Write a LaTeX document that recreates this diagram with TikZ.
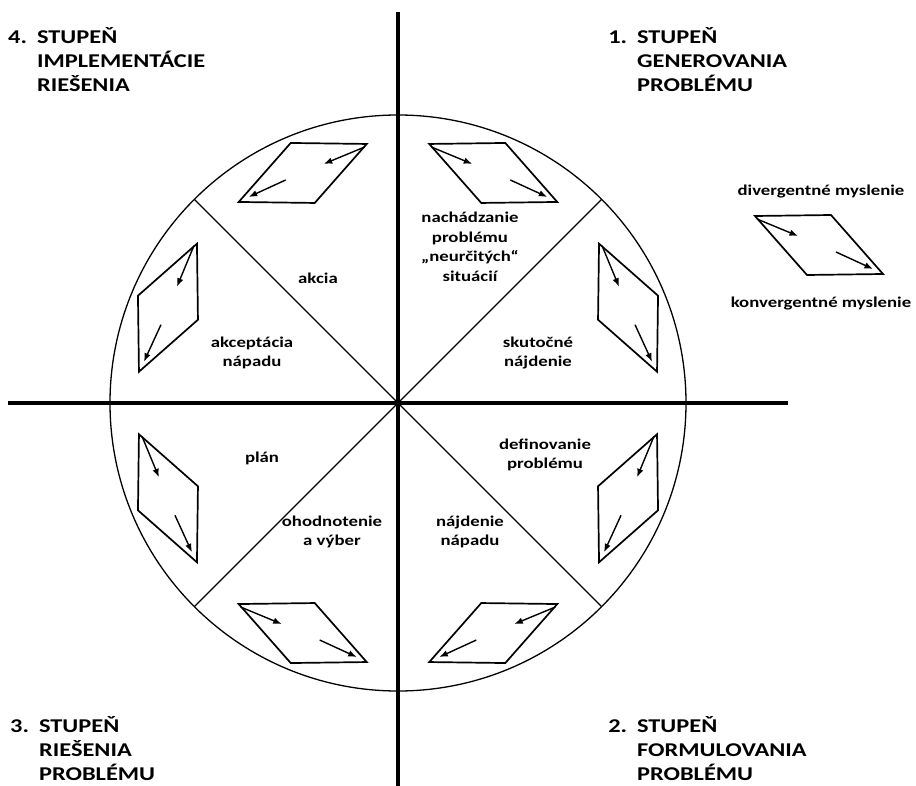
\documentclass[tikz,border=0pt]{standalone}
\usepackage{fontspec}
\setmainfont{Carlito}
\usetikzlibrary{positioning, arrows.meta}

\tikzset{
  axisline/.style={line width=3.8pt},
  thinline/.style={line width=1.3pt},
  shapeline/.style={line width=1.7pt, line join=miter},
  flowarrow/.style={-{Latex[length=8.5pt, width=6.5pt]}, line width=1.4pt},
  phase/.style={font=\fontsize{19.5}{24}\selectfont\bfseries, inner sep=0pt,
    xscale=1.25, transform shape},
  sectortext/.style={font=\fontsize{15}{19.5}\selectfont\bfseries, align=center,
    inner sep=0pt, xscale=1.25, transform shape},
  rhomb/.pic={
    \draw[shapeline] (-64,29) -- (12,30) -- (64,-29) -- (-12,-30) -- cycle;
    \draw[flowarrow] (-62,26) -- (-21,9);
    \draw[flowarrow] (17,-7) -- (54,-24);
  }
}

\begin{document}
\begin{tikzpicture}[x=1pt, y=1pt]
\useasboundingbox (-398,-382) rectangle (518,403);

% circle and sectors
\coordinate (O) at (0,0);
\draw[thinline] (O) circle (288);
\draw[thinline] (45:288) -- (225:288);
\draw[thinline] (135:288) -- (-45:288);

% axes
\draw[axisline] (0,391) -- (0,-390);
\draw[axisline] (-390,0) -- (390,0);

% stage headings
\node[phase, anchor=base west] (stage4) at (-390,359)
{\begin{tabular}[t]{@{}l@{\hspace{8pt}}l@{}}4. & STUPEŇ\\ & IMPLEMENTÁCIE\\ & RIEŠENIA\end{tabular}};
\node[phase, anchor=base west] (stage1) at (210,359)
{\begin{tabular}[t]{@{}l@{\hspace{8pt}}l@{}}1. & STUPEŇ\\ & GENEROVANIA\\ & PROBLÉMU\end{tabular}};
\node[phase, anchor=base west] (stage3) at (-388,-329)
{\begin{tabular}[t]{@{}l@{\hspace{8pt}}l@{}}3. & STUPEŇ\\ & RIEŠENIA\\ & PROBLÉMU\end{tabular}};
\node[phase, anchor=base west] (stage2) at (210,-329)
{\begin{tabular}[t]{@{}l@{\hspace{8pt}}l@{}}2. & STUPEŇ\\ & FORMULOVANIA\\ & PROBLÉMU\end{tabular}};

% 1. stupen
\pic at (67.5:249) {rhomb};
\pic[rotate=90, xscale=-1] at (22.5:249) {rhomb};
\node[sectortext] (finding) at (72,156) {nachádzanie\\problému\\„neurčitých“\\situácií};
\node[sectortext] (actual) at (140,50) {skutočné\\nájdenie};

% 2. stupen
\pic[rotate=-90] at (-22.5:249) {rhomb};
\pic[xscale=-1] at (-67.5:249) {rhomb};
\node[sectortext] (define) at (147,-52) {definovanie\\problému};
\node[sectortext] (idea) at (72,-129) {nájdenie\\nápadu};

% 3. stupen
\pic at (-112.5:249) {rhomb};
\pic[rotate=90, xscale=-1] at (-157.5:249) {rhomb};
\node[sectortext] (assess) at (-66,-129) {ohodnotenie\\a výber};
\node[sectortext] (plan) at (-136,-55) {plán};

% 4. stupen
\pic[rotate=-90] at (157.5:249) {rhomb};
\pic[xscale=-1] at (112.5:249) {rhomb};
\node[sectortext] (accept) at (-146,50) {akceptácia\\nápadu};
\node[sectortext] (action) at (-80,125) {akcia};

% legend
\node[sectortext] (diverg) at (423,211) {divergentné myslenie};
\pic at (421,158) {rhomb};
\node[sectortext] (converg) at (423,99) {konvergentné myslenie};

\end{tikzpicture}
\end{document}
